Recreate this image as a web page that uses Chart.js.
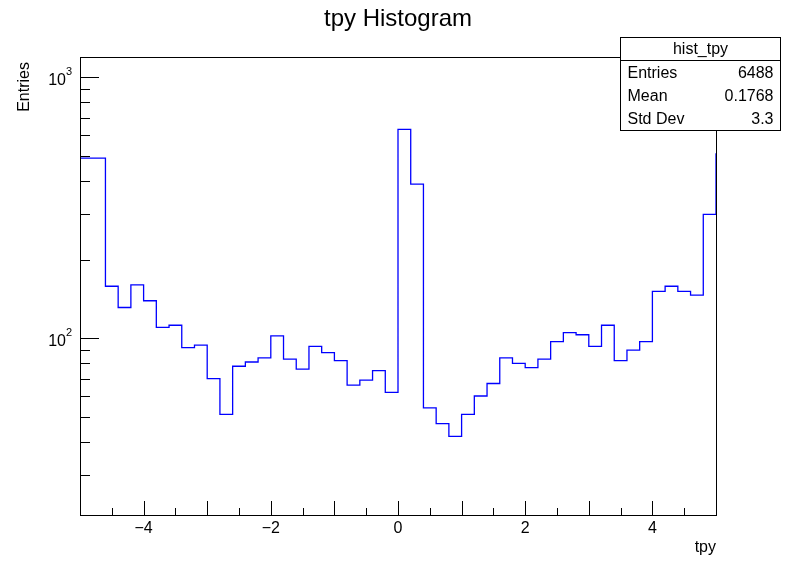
<!DOCTYPE html>
<html>
<head>
<meta charset="utf-8">
<script src="https://cdn.jsdelivr.net/npm/chart.js@4"></script>
<style>
  html, body { margin: 0; padding: 0; background: #fff; }
  #wrap { width: 796px; height: 572px; }
</style>
</head>
<body>
<div id="wrap"><canvas id="myChart" width="796" height="572"></canvas></div>
<script>
// 50 bins from -5 to 5
const xLow = -5
const binWidth = 0.2
const counts = [
  489, 158, 131, 160, 139, 110, 112, 92, 94, 70,
  51, 78, 81, 84, 102, 83, 76, 93, 88, 82,
  66, 69, 75, 62, 631, 389, 54, 47, 42, 51,
  60, 67, 84, 80, 77, 83, 97, 105, 103, 93,
  112, 82, 90, 97, 151, 158, 151, 146, 298, 511
]
const xTickLabels = [-4, -2, 0, 2, 4]
const statNames = ['Entries', 'Mean', 'Std Dev']
const statValues = ['6488', '0.1768', '3.3']

// step 'before': each segment takes the y of its right end point (bin upper edge)
const points = [{ x: xLow, y: counts[0] }]
counts.forEach((c, i) => points.push({ x: xLow + (i + 1) * binWidth, y: c }))

const FONT = '"Liberation Sans", Arial, sans-serif'

const rootFrame = {
  id: 'rootFrame',
  afterDraw(chart) {
    const { ctx, chartArea: a, scales } = chart
    const xs = scales.x, ys = scales.y
    ctx.save()
    ctx.strokeStyle = '#000'
    ctx.lineWidth = 1
    ctx.strokeRect(a.left + 0.5, a.top + 0.5, a.right - a.left, a.bottom - a.top)

    // x ticks
    ctx.beginPath()
    for (let v = -5; v <= 5.001; v += 0.5) {
      const px = Math.round(xs.getPixelForValue(v)) + 0.5
      const len = Math.abs(Math.round(v) - v) < 1e-6 ? 14 : 7
      ctx.moveTo(px, a.bottom)
      ctx.lineTo(px, a.bottom - len)
    }
    // y ticks
    for (let dec = 10; dec <= 1000; dec *= 10) {
      for (let m = 1; m <= 9; m++) {
        const v = dec * m
        if (v < ys.min || v > ys.max) continue
        const py = Math.round(ys.getPixelForValue(v)) + 0.5
        ctx.moveTo(a.left, py)
        ctx.lineTo(a.left + (m === 1 ? 19 : 10), py)
      }
    }
    ctx.stroke()

    // x labels
    ctx.fillStyle = '#000'
    ctx.font = '16px ' + FONT
    ctx.textAlign = 'center'
    ctx.textBaseline = 'top'
    xTickLabels.forEach(v => {
      const lbl = v < 0 ? '\u2212' + Math.abs(v) : String(v)
      ctx.fillText(lbl, xs.getPixelForValue(v), a.bottom + 6)
    })
    // y labels 10^2, 10^3
    ;[2, 3].forEach(e => {
      const py = ys.getPixelForValue(Math.pow(10, e))
      ctx.font = '16px ' + FONT
      ctx.textAlign = 'right'
      ctx.textBaseline = 'middle'
      ctx.fillText('10', a.left - 14, py + 3)
      ctx.font = '11px ' + FONT
      ctx.textAlign = 'left'
      ctx.fillText(String(e), a.left - 14, py - 5)
    })

    // title & axis titles
    ctx.font = '24px ' + FONT
    ctx.textAlign = 'center'
    ctx.textBaseline = 'middle'
    ctx.fillText('tpy Histogram', 398, 19)
    ctx.font = '16px ' + FONT
    ctx.textAlign = 'right'
    ctx.fillText('tpy', 716, 548)
    ctx.save()
    ctx.translate(25, 62)
    ctx.rotate(-Math.PI / 2)
    ctx.fillText('Entries', 0, 0)
    ctx.restore()

    // stats box
    const bx = 620.5, by = 37.5, bw = 160, bh = 93
    ctx.fillStyle = '#fff'
    ctx.fillRect(bx, by, bw, bh)
    ctx.strokeRect(bx, by, bw, bh)
    ctx.beginPath()
    ctx.moveTo(bx, by + 23)
    ctx.lineTo(bx + bw, by + 23)
    ctx.stroke()
    ctx.fillStyle = '#000'
    ctx.textAlign = 'center'
    ctx.fillText('hist_tpy', bx + bw / 2, by + 12)
    statNames.forEach((n, i) => {
      const ty = by + 36 + i * 23
      ctx.textAlign = 'left'
      ctx.fillText(n, bx + 7, ty)
      ctx.textAlign = 'right'
      ctx.fillText(statValues[i], bx + bw - 7, ty)
    })
    ctx.restore()
  }
}

new Chart(document.getElementById('myChart'), {
  type: 'line',
  data: {
    datasets: [{
      label: 'hist_tpy',
      data: points,
      stepped: 'before',
      borderColor: '#0000ff',
      borderWidth: 1.3,
      pointRadius: 0,
      fill: false
    }]
  },
  options: {
    responsive: false,
    animation: false,
    layout: { padding: { left: 80, right: 80, top: 57, bottom: 57 } },
    plugins: { legend: { display: false }, tooltip: { enabled: false } },
    scales: {
      x: { type: 'linear', min: -5, max: 5, display: false },
      y: { type: 'logarithmic', min: 21, max: 1194, display: false }
    }
  },
  plugins: [rootFrame]
})
</script>
</body>
</html>
